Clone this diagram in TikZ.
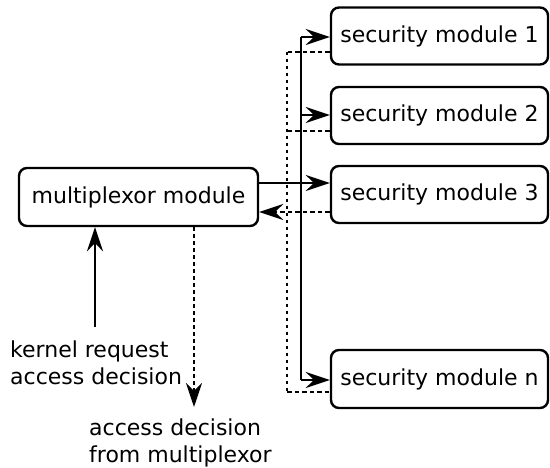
\documentclass[tikz,border=0pt]{standalone}
\usepackage{fontspec}
\setmainfont{DejaVu Sans}
\usetikzlibrary{arrows.meta}
\begin{document}
\begin{tikzpicture}[x=1pt,y=-1pt,
  box/.style={draw,line width=2.4pt,rounded corners=8pt,minimum height=57pt,inner sep=0pt,font=\fontsize{22}{27.5}\selectfont},
  conn/.style={line width=2.4pt},
  tip/.style={-{Stealth[length=24pt,width=16pt,inset=8pt]}},
  dsh/.style={dash pattern=on 4.5pt off 3pt},
  dts/.style={dash pattern=on 3.5pt off 3.5pt},
  lbl/.style={align=left,inner sep=0pt,font=\fontsize{22}{27.5}\selectfont}]
\useasboundingbox (0,0) rectangle (550,468);
\node[box,minimum width=239pt,minimum height=58pt] (mux) at (138.5,197) {multiplexor module};
\node[box,minimum width=217pt] (s1) at (439.5,36) {security module 1};
\node[box,minimum width=217pt] (s2) at (439.5,115.5) {security module 2};
\node[box,minimum width=217pt] (s3) at (439.5,194.5) {security module 3};
\node[box,minimum width=217pt,minimum height=58pt] (sn) at (439.5,379) {security module n};
\coordinate (b1) at (301,37);
\coordinate (b2) at (301,115);
\coordinate (b3) at (301,183);
\coordinate (bn) at (301,380);
\coordinate (d1) at (287,52);
\coordinate (d2) at (287,131);
\coordinate (d3) at (287,212);
\coordinate (dn) at (287,392);
\draw[conn,tip] (mux.east |- b3) -- (s3.west |- b3);
\draw[conn] (b1) -- (bn);
\draw[conn,tip] (b1) -- (s1.west |- b1);
\draw[conn,tip] (b2) -- (s2.west |- b2);
\draw[conn,tip] (bn) -- (sn.west |- bn);
\draw[conn,dsh] (s1.west |- d1) -- (d1);
\draw[conn,dts] (d1) -- (dn);
\draw[conn,dsh] (dn) -- (sn.west |- dn);
\draw[conn,dsh] (s2.west |- d2) -- (d2);
\draw[conn,dsh,tip] (s3.west |- d3) -- (mux.east |- d3);
\coordinate (kr) at (95,327);
\draw[conn,tip] (kr) -- (mux.south -| kr);
\coordinate (ad) at (194,407);
\draw[conn,dts,tip] (mux.south -| ad) -- (ad);
\node[lbl,anchor=west] (kreq) at (10,363) {kernel request\\access decision};
\node[lbl,anchor=west] (adec) at (89,443) {access decision\\from multiplexor};
\end{tikzpicture}
\end{document}
